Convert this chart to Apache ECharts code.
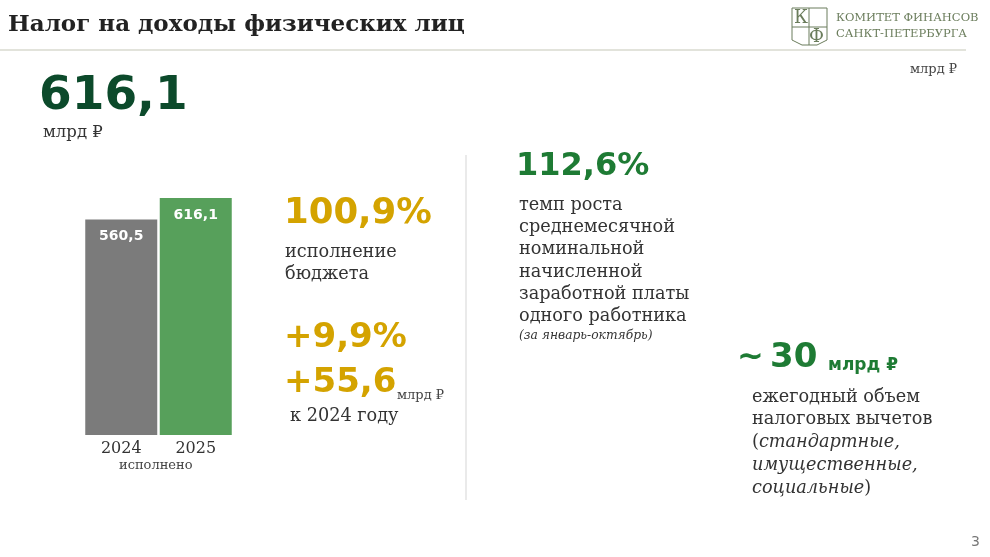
<!DOCTYPE html>
<html><head><meta charset="utf-8">
<script src="https://cdn.jsdelivr.net/npm/echarts@6/dist/echarts.min.js"></script>
<style>html,body{margin:0;padding:0;background:#fff}#c{width:990px;height:557px}</style>
</head><body><div id="c"></div>
<script>
const categories = ['2024', '2025'];
const values = [560.5, 616.1];
const barColors = ['#7b7b7b', '#57a05b'];
const SERIF = '"DejaVu Serif", serif';
const SANS = '"DejaVu Sans", "Noto Sans", sans-serif';
const fmt = v => String(v).replace('.', ',');

const chart = echarts.init(document.getElementById('c'));
function txt(x, y, text, size, color, opt) {
  return Object.assign({type: 'text', x: x, y: y, style: Object.assign({
    text: text, fontSize: size, fill: color, fontFamily: SERIF, textVerticalAlign: 'middle'
  }, opt || {})});
}
const B = {fontFamily: SANS, fontWeight: 'bold'};
const body = [
  txt(8, 25, 'Налог на доходы физических лиц', 23, '#222', {fontWeight: 'bold'}),
  txt(39, 97, '616,1', 47, '#0c4a2b', B),
  txt(43, 133, 'млрд ₽', 16.5, '#333'),
  txt(910, 70, 'млрд ₽', 13, '#444'),
  txt(836, 18, 'КОМИТЕТ ФИНАНСОВ', 11.5, '#6b7d5c'),
  txt(836, 34, 'САНКТ-ПЕТЕРБУРГА', 11.5, '#6b7d5c'),
  txt(284, 214, '100,9%', 35.5, '#d4a300', B),
  txt(285, 252, 'исполнение', 17.7, '#333'),
  txt(285, 274, 'бюджета', 17.7, '#333'),
  txt(284, 338, '+9,9%', 34, '#d4a300', B),
  txt(284, 383, '+55,6', 34, '#d4a300', B),
  txt(397, 396, 'млрд ₽', 13, '#444'),
  txt(290, 416, 'к 2024 году', 17.7, '#333'),
  txt(119, 466, 'исполнено', 13, '#444'),
  txt(516, 167, '112,6%', 32, '#1e7b34', B),
  txt(737, 358, '~', 32, '#1e7b34', B),
  txt(770, 358, '30', 34, '#1e7b34', B),
  txt(828, 366, 'млрд ₽', 17, '#1e7b34', B),
  txt(519, 336, '(за январь-октябрь)', 12.3, '#333', {fontStyle: 'italic'}),
  txt(971, 542, '3', 14, '#777', {fontFamily: SANS})
];
const wage = ['темп роста', 'среднемесячной', 'номинальной', 'начисленной', 'заработной платы', 'одного работника'];
wage.forEach((t, i) => body.push(txt(519, 205 + i * 22.3, t, 17.7, '#333')));
const ded = [
  {text: 'ежегодный объем'},
  {text: 'налоговых вычетов'},
  {text: '{n|(}{i|стандартные,}', rich: true},
  {text: '{i|имущественные,}', rich: true},
  {text: '{i|социальные}{n|)}', rich: true}
];
ded.forEach((d, i) => {
  const o = txt(752, 397 + i * 22.8, d.text, 17.7, '#333');
  if (d.rich) o.style.rich = {
    n: {fontSize: 17.7, fontFamily: SERIF, fill: '#333'},
    i: {fontSize: 17.7, fontFamily: SERIF, fill: '#333', fontStyle: 'italic'}
  };
  body.push(o);
});
body.push({type: 'line', shape: {x1: 0, y1: 50, x2: 966, y2: 50}, style: {stroke: '#c6c8b8', lineWidth: 1.2}});
body.push({type: 'line', shape: {x1: 466, y1: 155, x2: 466, y2: 500}, style: {stroke: '#dcdcdc', lineWidth: 1.2}});
body.push({type: 'polyline', shape: {points: [[792, 8], [827, 8], [827, 40], [817, 45], [802, 45], [792, 40], [792, 8]]}, style: {stroke: '#6b7d5c', lineWidth: 1, fill: 'none'}});
body.push({type: 'line', shape: {x1: 809, y1: 8, x2: 809, y2: 45}, style: {stroke: '#6b7d5c', lineWidth: 1}});
body.push({type: 'line', shape: {x1: 792, y1: 27, x2: 827, y2: 27}, style: {stroke: '#6b7d5c', lineWidth: 1}});
body.push(txt(794, 18, 'К', 18, '#6b7d5c'));
body.push(txt(809, 37, 'Ф', 18, '#6b7d5c'));

chart.setOption({
  backgroundColor: '#fff',
  animation: false,
  grid: {left: 84, width: 149, top: 198, bottom: 122, containLabel: false},
  xAxis: {type: 'category', data: categories, axisLine: {show: false}, axisTick: {show: false},
    axisLabel: {fontSize: 16, color: '#333', fontFamily: SERIF, margin: 6}},
  yAxis: {type: 'value', min: 0, max: 'dataMax', show: false, splitLine: {show: false}},
  series: [{type: 'bar', barWidth: 72,
    data: values.map((v, i) => ({value: v, itemStyle: {color: barColors[i]}})),
    label: {show: true, position: 'insideTop', distance: 10, color: '#fff', fontWeight: 'bold',
      fontSize: 14, fontFamily: SANS, formatter: p => fmt(p.value)}}],
  graphic: body
});
</script></body></html>
